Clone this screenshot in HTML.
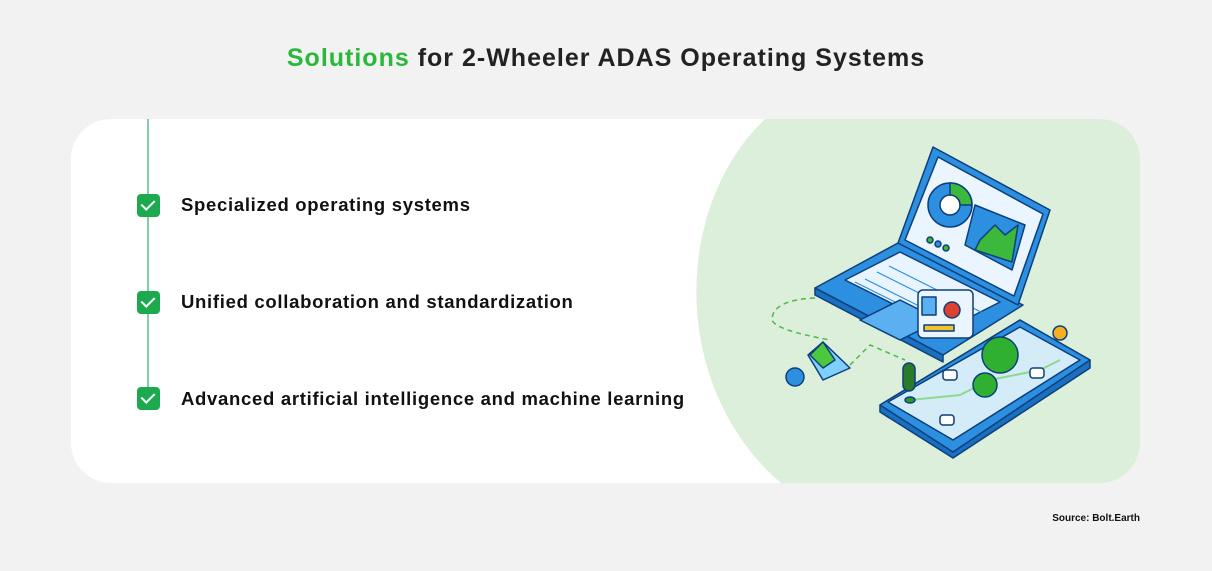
<!DOCTYPE html>
<html><head><style>
body{margin:0;width:1212px;height:571px;background:#f2f2f2;font-family:"Liberation Sans",sans-serif;position:relative;overflow:hidden}
h1{position:absolute;top:44px;left:0;width:1212px;text-align:center;margin:0;font-size:25px;font-weight:bold;color:#222;letter-spacing:1px}
h1 span{color:#2ab83a}
.card{position:absolute;left:71px;top:119px;width:1069px;height:364px;background:#fff;border-radius:40px;overflow:hidden}
.item{position:absolute;left:181px;font-size:18.5px;font-weight:bold;color:#111;letter-spacing:0.7px}
.cb{position:absolute;left:137px;width:23px;height:23px;background:#1daa4e;border-radius:4px}
.cb::after{content:"";position:absolute;left:7px;top:3px;width:6px;height:11px;border:solid #fff;border-width:0 2.5px 2.5px 0;transform:rotate(45deg)}
.src{position:absolute;right:72px;top:513px;font-size:10px;font-weight:bold;color:#111}
</style></head><body>
<h1><span>Solutions</span> for 2-Wheeler ADAS Operating Systems</h1>
<div class="card">
<svg width="1069" height="364" style="position:absolute;left:0;top:0">
<path d="M694 0 C600 90 600 270 710 364 L1069 364 L1069 0 Z" fill="#dcefdb"/>
<line x1="77" y1="0" x2="77" y2="280" stroke="#7fcfa8" stroke-width="2"/>
<g transform="translate(-71,-119)" stroke="#0d3f7a" stroke-width="1.5" stroke-linejoin="round">
<path d="M815 298 Q772 300 772 320 Q775 330 830 340" fill="none" stroke="#4cb84c" stroke-dasharray="5 4"/>
<path d="M850 365 L870 345 L905 360" fill="none" stroke="#4cb84c" stroke-dasharray="5 4"/>
<polygon points="815,288 898,243 1023,305 943,355" fill="#2d8fe0"/>
<polygon points="815,288 943,355 943,362 815,295" fill="#1a6fc0"/>
<polygon points="845,280 900,252 1000,302 945,330" fill="#e8f4ff"/>
<g stroke="#2d8fe0" stroke-width="1.2">
<line x1="855" y1="285" x2="955" y2="335" transform="translate(0,-3)"/>
<line x1="865" y1="279" x2="965" y2="329"/><line x1="877" y1="272" x2="977" y2="322"/><line x1="889" y1="266" x2="989" y2="316"/>
</g>
<polygon points="860,320 900,300 940,320 900,340" fill="#5ab0f0"/>
<polygon points="933,147 1050,210 1018,305 898,243" fill="#2d8fe0"/>
<polygon points="938,157 1043,214 1014,296 905,240" fill="#eaf5ff"/>
<circle cx="950" cy="205" r="22" fill="#2d8fe0"/><circle cx="950" cy="205" r="10" fill="#fff"/>
<path d="M950 183 A22 22 0 0 1 972 205 L960 205 A10 10 0 0 0 950 195Z" fill="#3cb83c"/>
<circle cx="930" cy="240" r="3" fill="#3cb83c"/><circle cx="938" cy="244" r="3" fill="#2d8fe0"/><circle cx="946" cy="248" r="3" fill="#3cb83c"/>
<polygon points="975,205 1025,225 1012,270 965,245" fill="#2d8fe0"/>
<polygon points="980,240 995,225 1005,235 1018,225 1012,262 975,250" fill="#3cb83c"/>
<polygon points="880,405 1020,320 1090,360 1090,368 953,458 880,412" fill="#1a6fc0"/>
<polygon points="880,405 1020,320 1090,360 953,452" fill="#2d8fe0"/>
<polygon points="888,402 1020,327 1080,360 953,440" fill="#d4ecf8"/>
<path d="M910 400 L960 395 L990 380 L1040 370 L1060 360" fill="none" stroke="#8fd88f" stroke-width="2"/>
<rect x="918" y="290" width="55" height="48" rx="5" fill="#eaf5ff"/>
<rect x="922" y="297" width="14" height="18" fill="#5ab0f0"/>
<circle cx="952" cy="310" r="8" fill="#e04030"/>
<rect x="924" y="325" width="30" height="6" fill="#f4c430"/>
<path d="M808 355 L823 342 L850 368 L823 380Z" fill="#7fcfff"/>
<polygon points="823,342 835,360 823,368 810,355" fill="#4cc83c"/>
<circle cx="795" cy="377" r="9" fill="#2d8fe0"/>
<rect x="903" y="363" width="12" height="28" rx="6" fill="#2a7a2a"/>
<ellipse cx="910" cy="400" rx="5" ry="3" fill="#2a9a2a"/>
<circle cx="1000" cy="355" r="18" fill="#30b030"/><circle cx="985" cy="385" r="12" fill="#30b030"/>
<circle cx="1060" cy="333" r="7" fill="#f4b020"/>
<rect x="943" y="370" width="14" height="10" rx="3" fill="#fff"/><rect x="1030" y="368" width="14" height="10" rx="3" fill="#fff"/><rect x="940" y="415" width="14" height="10" rx="3" fill="#fff"/>
</g>
</svg>
<div class="cb" style="top:75px;left:66px"></div>
<div class="cb" style="top:172px;left:66px"></div>
<div class="cb" style="top:268px;left:66px"></div>
</div>
<div class="item" style="top:194px">Specialized operating systems</div>
<div class="item" style="top:291px">Unified collaboration and standardization</div>
<div class="item" style="top:388px">Advanced artificial intelligence and machine learning</div>
<div class="src">Source: Bolt.Earth</div>
</body></html>
